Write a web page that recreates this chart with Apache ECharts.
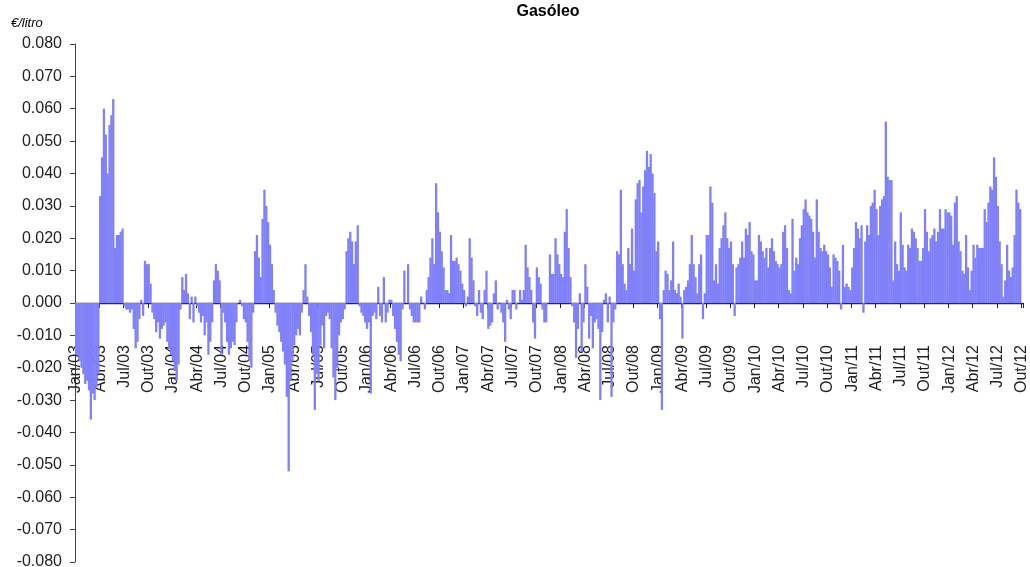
<!DOCTYPE html>
<html>
<head>
<meta charset="utf-8">
<script src="https://cdn.jsdelivr.net/npm/echarts@6/dist/echarts.min.js"></script>
<style>
html,body{margin:0;padding:0;background:#fff;}
#chart{width:1030px;height:567px;}
</style>
</head>
<body>
<div id="chart"></div>
<script>
// Quarter tick labels (each quarter = 13 weekly bars)
const quarterLabels = ['Jan/03','Abr/03','Jul/03','Out/03','Jan/04','Abr/04','Jul/04','Out/04',
  'Jan/05','Abr/05','Jul/05','Out/05','Jan/06','Abr/06','Jul/06','Out/06',
  'Jan/07','Abr/07','Jul/07','Out/07','Jan/08','Abr/08','Jul/08','Out/08',
  'Jan/09','Abr/09','Jul/09','Out/09','Jan/10','Abr/10','Jul/10','Out/10',
  'Jan/11','Abr/11','Jul/11','Out/11','Jan/12','Abr/12','Jul/12','Out/12'];
const weeksPerQuarter = 13;

// Weekly values (€/litro)
const y2003 = [
  -0.016,-0.016,-0.018,-0.020,-0.022,-0.025,-0.024,-0.027,-0.036,-0.028,-0.030,-0.026,-0.022,
  0.033,0.045,0.060,0.052,0.040,0.055,0.058,0.063,0.017,0.021,0.021,0.022,0.023,
  -0.001,-0.002,-0.002,-0.003,-0.002,-0.008,-0.014,-0.012,-0.005,0.001,-0.004,0.013,0.012,
  0.012,0.006,-0.003,-0.005,-0.009,-0.006,-0.011,-0.008,-0.007,-0.006,-0.012,-0.014,-0.016];
const y2004 = [
  -0.018,-0.021,-0.024,-0.019,-0.002,0.008,0.004,0.009,0.003,-0.005,0.002,-0.006,0.002,
  -0.001,-0.003,-0.006,-0.004,-0.010,-0.006,-0.016,-0.012,-0.006,0.007,0.012,0.010,0.007,
  -0.016,-0.003,-0.006,-0.012,-0.016,-0.014,-0.012,-0.013,-0.006,0.000,0.001,-0.001,-0.005,
  -0.006,-0.012,-0.018,-0.020,-0.003,0.016,0.021,0.014,0.008,0.026,0.035,0.030,0.025];
const y2005 = [
  0.018,0.012,0.004,-0.003,-0.007,-0.009,-0.012,-0.015,-0.019,-0.029,-0.052,-0.024,-0.018,
  -0.013,-0.010,-0.008,-0.010,-0.003,0.004,0.012,0.002,-0.004,-0.009,-0.016,-0.033,-0.022,
  -0.024,-0.013,-0.007,-0.014,-0.004,-0.003,-0.005,-0.014,-0.023,-0.030,-0.020,-0.010,-0.006,
  -0.005,-0.002,0.016,0.020,0.022,0.019,0.012,0.019,0.024,-0.001,-0.003,-0.004,-0.006];
const y2006 = [
  -0.008,-0.006,-0.028,-0.004,-0.003,-0.005,0.005,-0.004,-0.006,0.008,-0.006,-0.003,0.001,
  0.001,-0.004,-0.008,-0.012,-0.016,-0.018,-0.002,0.010,0.000,0.012,-0.002,-0.004,-0.006,
  -0.006,-0.006,-0.006,0.002,0.000,-0.002,0.004,0.008,0.014,0.020,0.012,0.037,0.028,
  0.022,0.016,0.011,0.004,0.004,0.003,0.021,0.013,0.013,0.014,0.012,0.010,0.006];
const y2007 = [
  0.004,-0.001,0.002,0.020,0.014,0.007,-0.001,-0.004,0.004,-0.003,-0.005,0.004,0.010,
  -0.008,-0.007,-0.006,0.003,0.007,-0.002,0.000,-0.003,-0.006,-0.012,0.001,-0.002,-0.005,
  0.004,0.004,-0.002,0.000,0.004,0.001,0.004,0.018,0.011,0.008,0.004,-0.006,-0.011,
  0.011,0.008,0.006,-0.002,-0.006,-0.006,0.000,0.015,0.009,0.009,0.020,0.015,0.012];
const y2008 = [
  0.009,0.008,0.022,0.029,0.017,0.008,-0.001,-0.006,-0.017,-0.008,0.003,-0.015,-0.006,
  0.012,0.005,-0.011,-0.004,-0.014,-0.006,-0.005,-0.008,-0.030,-0.009,0.001,0.003,-0.006,
  0.002,-0.029,-0.006,-0.002,0.016,0.015,0.035,0.012,0.006,0.004,0.017,0.012,0.023,
  0.010,0.032,0.037,0.038,0.028,0.036,0.041,0.047,0.042,0.046,0.040,0.034,0.016];
const y2009 = [
  0.019,-0.005,-0.033,0.004,0.010,0.009,0.004,0.007,0.019,0.004,0.003,0.006,0.002,
  -0.011,0.004,0.005,0.007,0.012,0.021,0.012,0.008,0.003,0.012,0.015,-0.005,0.003,
  0.021,0.021,0.036,0.031,0.007,0.012,0.006,0.017,0.020,0.024,0.028,0.020,0.017,
  0.019,0.012,-0.004,0.011,0.012,0.014,0.019,0.014,0.023,0.021,0.025,0.016,0.015];
const y2010 = [
  0.007,0.007,0.021,0.019,0.016,0.014,0.017,0.011,0.017,0.020,0.016,0.013,0.012,
  0.011,0.012,0.022,0.024,0.017,0.004,0.003,0.026,0.010,0.014,0.012,0.020,0.024,
  0.029,0.032,0.028,0.027,0.026,0.022,0.014,0.032,0.022,0.017,0.016,0.018,0.016,
  0.015,0.011,0.005,0.015,0.014,0.013,0.010,-0.002,0.018,0.005,0.006,0.005,0.004];
const y2011 = [
  0.011,0.017,0.025,0.023,0.020,0.024,-0.003,0.019,0.024,0.021,0.030,0.031,0.035,
  0.029,0.021,0.030,0.032,0.033,0.056,0.039,0.038,0.038,0.007,0.019,0.012,0.010,
  0.028,0.018,0.011,0.010,0.018,0.017,0.023,0.022,0.020,0.017,0.013,0.013,0.017,
  0.029,0.022,0.016,0.020,0.021,0.023,0.019,0.022,0.029,0.023,0.023,0.029,0.028];
const y2012 = [
  0.028,0.027,0.018,0.031,0.033,0.019,0.016,0.010,0.009,0.021,0.011,0.004,0.010,
  0.018,0.014,0.018,0.017,0.017,0.017,0.029,0.025,0.031,0.036,0.035,0.045,0.039,
  0.030,0.019,0.012,0.002,0.007,0.018,0.010,0.008,0.011,0.021,0.035,0.031,0.029];

const values = [].concat(y2003,y2004,y2005,y2006,y2007,y2008,y2009,y2010,y2011,y2012);

// categories: one per week, named by quarter + week number; one trailing slot for the last tick label
const categories = [];
for (let q = 0; q < quarterLabels.length; q++) {
  const n = (q < quarterLabels.length - 1) ? weeksPerQuarter : 1;
  for (let w = 0; w < n; w++) categories.push(quarterLabels[q] + ' s' + (w + 1));
}
const seriesData = categories.map((c, i) => (i < values.length ? values[i] : null));

const W = 1030, H = 567;
const gridTop = 44, gridBottom = 5, gridLeft = 75, gridRight = 7;
const yMin = -0.08, yMax = 0.08;
const plotH = H - gridTop - gridBottom;
// distance from the bottom edge of the grid up to the zero line (used to put the x axis on zero)
const zeroOffset = plotH * (0 - yMin) / (yMax - yMin);

const chart = echarts.init(document.getElementById('chart'), null, {renderer: 'canvas'});
const font = '"Liberation Sans", Arial, sans-serif';
chart.setOption({
  animation: false,
  backgroundColor: '#ffffff',
  graphic: [{
    type: 'text', left: 11, top: 17,
    style: {text: '€/litro', fontFamily: font, fontSize: 13, fontStyle: 'italic', fill: '#000'}
  }, {
    type: 'text', x: (gridLeft + W - gridRight - 2) / 2, y: 4,
    style: {text: 'Gasóleo', fontFamily: font, fontSize: 16, fontWeight: 'bold', fill: '#000', align: 'center'}
  }],
  grid: {left: gridLeft, right: gridRight, top: gridTop, bottom: gridBottom, containLabel: false, outerBoundsMode: 'none'},
  xAxis: {
    type: 'category',
    data: categories,
    boundaryGap: true,
    offset: -zeroOffset,
    axisLine: {onZero: false, lineStyle: {color: '#2a2a50', width: 1.3}},
    axisTick: {show: true, interval: weeksPerQuarter - 1, length: 5, lineStyle: {color: '#222'}},
    axisLabel: {
      interval: weeksPerQuarter - 1,
      rotate: 90,
      margin: 42,
      fontFamily: font,
      fontSize: 16,
      color: '#222',
      formatter: v => v.split(' ')[0]
    },
    splitLine: {show: false}
  },
  yAxis: {
    type: 'value',
    min: yMin, max: yMax, interval: 0.01,
    axisLine: {show: true, lineStyle: {color: '#444', width: 1}},
    axisTick: {show: true, length: 5, lineStyle: {color: '#444'}},
    axisLabel: {
      margin: 13, fontFamily: font, fontSize: 16, color: '#222',
      formatter: v => v.toFixed(3)
    },
    splitLine: {show: false}
  },
  series: [{
    type: 'bar',
    data: seriesData,
    barWidth: 2.3,
    barGap: '0%',
    itemStyle: {color: '#8080f8'},
    silent: true
  }]
});
</script>
</body>
</html>
